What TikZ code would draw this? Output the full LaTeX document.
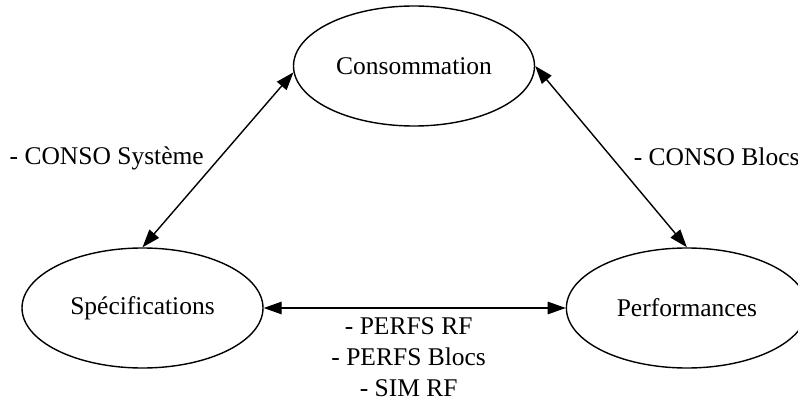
\documentclass[tikz,border=0pt]{standalone}
\usepackage{fontspec}
\setmainfont{Liberation Serif}
\usetikzlibrary{shapes.geometric, arrows.meta, positioning}

\begin{document}
\begin{tikzpicture}[
  x=1pt, y=-1pt,
  etat/.style={draw, ellipse, minimum width=241pt, minimum height=120pt, inner sep=0pt, line width=1.4pt, font=\fontsize{25.5}{31}\selectfont},
  lien/.style={line width=1.4pt, {Triangle[length=18pt,width=12.5pt]}-{Triangle[length=18pt,width=12.5pt]}},
  lbl/.style={inner sep=0pt, align=center, font=\fontsize{25.5}{31}\selectfont}
]
  \useasboundingbox (0,0) rectangle (798,401);
  \clip (0,0) rectangle (798,401);

  \node (conso) [etat] at (414,66) {Consommation};
  \node (specs) [etat] at (142.5,308) {Spécifications};
  \node (perfs) [etat, right=302pt of specs] {Performances};

  \draw [lien] (conso.183) -- node[pos=0.49, left=15pt, lbl] {- CONSO Système} (specs.north);
  \draw [lien] (conso.east) -- node[pos=0.5, right=22pt, lbl] {- CONSO Blocs} (perfs.north);
  \draw [lien] (specs.east) -- node[below=9pt, xshift=-6pt, lbl] {- PERFS RF\\- PERFS Blocs\\- SIM RF} (perfs.west);
\end{tikzpicture}
\end{document}
